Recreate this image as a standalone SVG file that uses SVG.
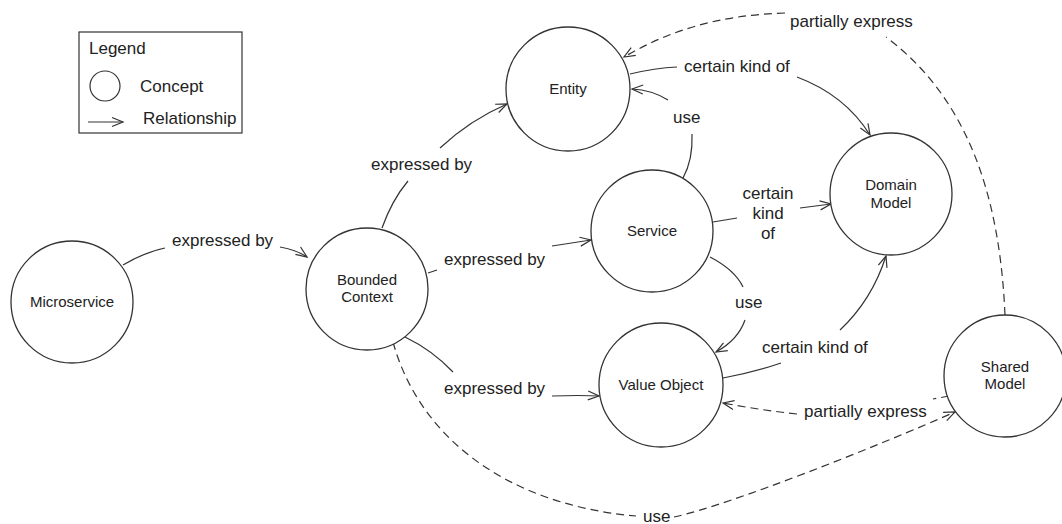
<svg xmlns="http://www.w3.org/2000/svg" width="1062" height="524" viewBox="0 0 1062 524">
<style>
.node{fill:#fff;stroke:#333;stroke-width:1.3}
.nl{font-family:"Liberation Sans",Arial,sans-serif;font-size:15px;fill:#222;text-anchor:middle}
.el{font-family:"Liberation Sans",Arial,sans-serif;font-size:17px;fill:#222}
.c{fill:none;stroke:#333;stroke-width:1.2}
.d{stroke-dasharray:8 5}
</style>
<defs>
<marker id="a" markerUnits="userSpaceOnUse" markerWidth="14" markerHeight="12" refX="11" refY="5" orient="auto" overflow="visible">
<path d="M0,0.5 L11,5 L0,9.5" fill="none" stroke="#333" stroke-width="1.2"/>
</marker>
</defs>
<rect width="1062" height="524" fill="#fff"/>
<g id="legend">
<rect x="79" y="32" width="163" height="101" fill="none" stroke="#333" stroke-width="1.2"/>
<text class="el" x="89" y="54">Legend</text>
<circle cx="105" cy="86" r="15" fill="none" stroke="#333" stroke-width="1.2"/>
<text class="el" x="140" y="92">Concept</text>
<path class="c" d="M88,122 L123,122" marker-end="url(#a)"/>
<text class="el" x="143" y="124">Relationship</text>
</g>
<g id="connectors">
<path class="c" d="M123,265 Q145,252 165,248"/>
<path class="c" d="M280,247 Q297,250 307,257" marker-end="url(#a)"/>
<text class="el" x="172" y="246">expressed by</text>
<path class="c" d="M382,228 Q392,200 408,181"/>
<path class="c" d="M440,148 Q470,120 507,104" marker-end="url(#a)"/>
<text class="el" x="371" y="170">expressed by</text>
<path class="c" d="M428,273 L437,270"/>
<path class="c" d="M552,246 L591,240" marker-end="url(#a)"/>
<text class="el" x="444" y="265">expressed by</text>
<path class="c" d="M405,337 Q432,350 453,372"/>
<path class="c" d="M552,396 Q580,395 599,396" marker-end="url(#a)"/>
<text class="el" x="444" y="394">expressed by</text>
<path class="c d" d="M393,342 C420,440 510,505 636,516"/>
<path class="c d" d="M674,517 C730,505 880,445 955,412" marker-end="url(#a)"/>
<text class="el" x="643" y="522">use</text>
<path class="c" d="M630,74 Q655,68 677,67"/>
<path class="c" d="M797,77 Q845,95 870,135" marker-end="url(#a)"/>
<text class="el" x="684" y="72">certain kind of</text>
<path class="c" d="M683,178 Q693,160 692,134"/>
<path class="c" d="M668,100 Q652,90 632,89" marker-end="url(#a)"/>
<text class="el" x="673" y="123">use</text>
<path class="c" d="M713,222 L737,218"/>
<path class="c" d="M800,208 L831,204" marker-end="url(#a)"/>
<text class="el" x="768" y="199" text-anchor="middle">certain</text>
<text class="el" x="768" y="219" text-anchor="middle">kind</text>
<text class="el" x="768" y="239" text-anchor="middle">of</text>
<path class="c" d="M710,257 Q735,270 743,287"/>
<path class="c" d="M745,320 Q738,340 716,352" marker-end="url(#a)"/>
<text class="el" x="735" y="308">use</text>
<path class="c" d="M723,378 Q755,372 781,363"/>
<path class="c" d="M840,330 Q872,300 886,256" marker-end="url(#a)"/>
<text class="el" x="762" y="353">certain kind of</text>
<path class="c d" d="M949,396 L933,399"/>
<path class="c d" d="M797,414 Q760,410 723,403" marker-end="url(#a)"/>
<text class="el" x="804" y="417">partially express</text>
<path class="c d" d="M1005,315 C1000,200 970,100 886,37"/>
<path class="c d" d="M785,13 C720,15 670,30 624,57" marker-end="url(#a)"/>
<text class="el" x="790" y="27">partially express</text>
</g>
<g id="microservice"><circle class="node" cx="72" cy="302" r="61"/><text class="nl" x="72" y="307">Microservice</text></g>
<g id="bounded-context"><circle class="node" cx="367" cy="289" r="61"/><text class="nl" x="367" y="285">Bounded</text><text class="nl" x="367" y="302">Context</text></g>
<g id="entity"><circle class="node" cx="568" cy="89" r="62"/><text class="nl" x="568" y="94">Entity</text></g>
<g id="service"><circle class="node" cx="652" cy="231" r="61"/><text class="nl" x="652" y="236">Service</text></g>
<g id="domain-model"><circle class="node" cx="891" cy="194" r="61"/><text class="nl" x="891" y="190">Domain</text><text class="nl" x="891" y="208">Model</text></g>
<g id="value-object"><circle class="node" cx="661" cy="385" r="62"/><text class="nl" x="661" y="390">Value Object</text></g>
<g id="shared-model"><circle class="node" cx="1005" cy="376" r="61"/><text class="nl" x="1005" y="372">Shared</text><text class="nl" x="1005" y="389">Model</text></g>
</svg>
